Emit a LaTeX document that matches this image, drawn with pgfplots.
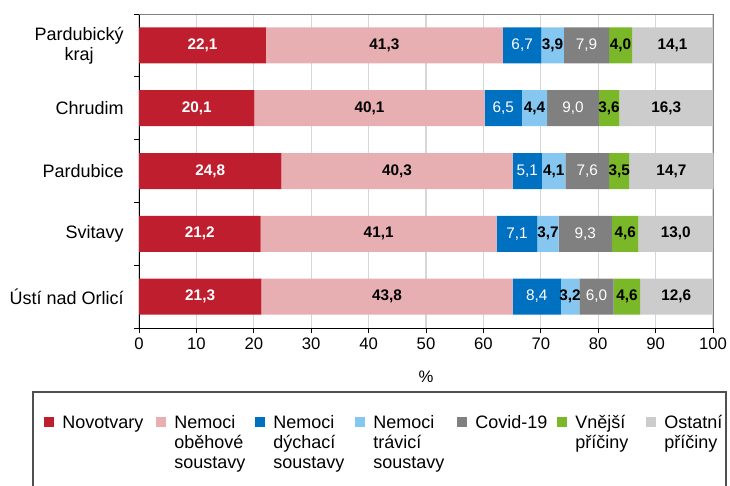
\documentclass[border=0pt]{standalone}
\usepackage{pgfplots}
\pgfplotsset{compat=1.18}
\usepackage{fontspec}
\setmainfont{Liberation Sans}
\definecolor{cRed}{RGB}{190,30,45}
\definecolor{cPink}{RGB}{231,175,178}
\definecolor{cBlue}{RGB}{0,112,192}
\definecolor{cLBlue}{RGB}{133,199,240}
\definecolor{cGray}{RGB}{128,128,128}
\definecolor{cGreen}{RGB}{122,184,41}
\definecolor{cLGray}{RGB}{204,204,204}
\definecolor{gridGray}{RGB}{214,214,214}
\definecolor{frameGray}{RGB}{80,80,80}
\newcommand{\lt}[2]{\makebox[#1][l]{\begin{tabular}[t]{@{}l@{}}#2\end{tabular}}}
\begin{document}
\begin{tikzpicture}[x=0.75pt,y=0.75pt]
\useasboundingbox (0,0) rectangle (730,485);
\begin{axis}[
  at={(104.25pt,117.75pt)}, anchor=south west,
  scale only axis, width=430.5pt, height=235.5pt,
  clip=false,
  xbar stacked, bar width=27pt,
  xmin=0, xmax=100, ymin=-0.5, ymax=4.5, y dir=reverse,
  xtick={0,10,...,100},
  ytick={0,1,2,3,4},
  yticklabels={{Pardubický\\kraj},Chrudim,Pardubice,Svitavy,Ústí nad Orlicí},
  minor ytick={-0.5,0.5,1.5,2.5,3.5,4.5},
  /pgf/number format/assume math mode=true,
  axis x line*=bottom, axis y line*=left,
  axis line style={-, black, line width=0.75pt},
  tick align=outside,
  major tick length=3.75pt,
  minor tick length=3.75pt,
  tick style={black, line width=0.75pt},
  major y tick style={draw=none},
  xmajorgrids,
  major grid style={draw=gridGray, line width=1pt},
  xticklabel style={font=\fontsize{12.5}{15}\selectfont},
  yticklabel style={font=\fontsize{13.5}{15}\selectfont, align=center, inner xsep=0pt, xshift=-7.5pt},
  xlabel={\%},
  xlabel style={at={(axis description cs:0.5,0)}, anchor=center, yshift=-36.75pt, font=\fontsize{12.5}{15}\selectfont},
  nodes near coords,
  point meta=explicit,
  every node near coord/.append style={anchor=center, inner sep=0pt,
     font=\fontsize{11.5}{13}\selectfont\bfseries, text=black},
  nodes near coords={\pgfmathprintnumber[use comma,fixed,fixed zerofill,precision=1,assume math mode=true]{\pgfplotspointmeta}},
  legend columns=7,
  legend image code/.code={\fill[#1] (0pt,0.75pt) rectangle (7.5pt,8.25pt);},
  legend style={at={(axis description cs:-0.16551,-0.27389)}, anchor=north west,
     draw=none, fill=none, inner sep=0pt, column sep=0pt,
     font=\fontsize{13.5}{15}\selectfont,
     cells={anchor=base west},
     nodes={inner sep=0pt},
     /tikz/every odd column/.append style={column sep=6pt}},
]
\addplot[fill=cRed, draw=none, every node near coord/.append style={text=white}]
  coordinates {(22.1,0)[22.1] (20.1,1)[20.1] (24.8,2)[24.8] (21.2,3)[21.2] (21.3,4)[21.3]};
\addlegendentry{\lt{70.5pt}{Novotvary}}
\addplot[fill=cPink, draw=none]
  coordinates {(41.3,0)[41.3] (40.1,1)[40.1] (40.3,2)[40.3] (41.1,3)[41.1] (43.8,4)[43.8]};
\addlegendentry{\lt{60.75pt}{Nemoci\\oběhové\\soustavy}}
\addplot[fill=cBlue, draw=none, every node near coord/.append style={text=white, font=\fontsize{11.5}{13}\selectfont}]
  coordinates {(6.7,0)[6.7] (6.5,1)[6.5] (5.1,2)[5.1] (7.1,3)[7.1] (8.4,4)[8.4]};
\addlegendentry{\lt{61.5pt}{Nemoci\\dýchací\\soustavy}}
\addplot[fill=cLBlue, draw=none]
  coordinates {(3.9,0)[3.9] (4.4,1)[4.4] (4.1,2)[4.1] (3.7,3)[3.7] (3.2,4)[3.2]};
\addlegendentry{\lt{63pt}{Nemoci\\trávicí\\soustavy}}
\addplot[fill=cGray, draw=none, every node near coord/.append style={text=white, font=\fontsize{11.5}{13}\selectfont}]
  coordinates {(7.9,0)[7.9] (9.0,1)[9.0] (7.6,2)[7.6] (9.3,3)[9.3] (6.0,4)[6.0]};
\addlegendentry{\lt{61.5pt}{Covid-19}}
\addplot[fill=cGreen, draw=none]
  coordinates {(4.0,0)[4.0] (3.6,1)[3.6] (3.5,2)[3.5] (4.6,3)[4.6] (4.6,4)[4.6]};
\addlegendentry{\lt{53.25pt}{Vnější\\příčiny}}
\addplot[fill=cLGray, draw=none]
  coordinates {(14.1,0)[14.1] (16.3,1)[16.3] (14.7,2)[14.7] (13.0,3)[13.0] (12.6,4)[12.6]};
\addlegendentry{\lt{45pt}{Ostatní\\příčiny}}
\draw[draw=cGray, line width=0.75pt] (axis description cs:0,1) -- (axis description cs:1,1) -- (axis description cs:1,0);
\end{axis}
\draw[draw=frameGray, line width=0.9pt] (33,-10) -- (33,93) -- (726,93) -- (726,-10);
\end{tikzpicture}
\end{document}
